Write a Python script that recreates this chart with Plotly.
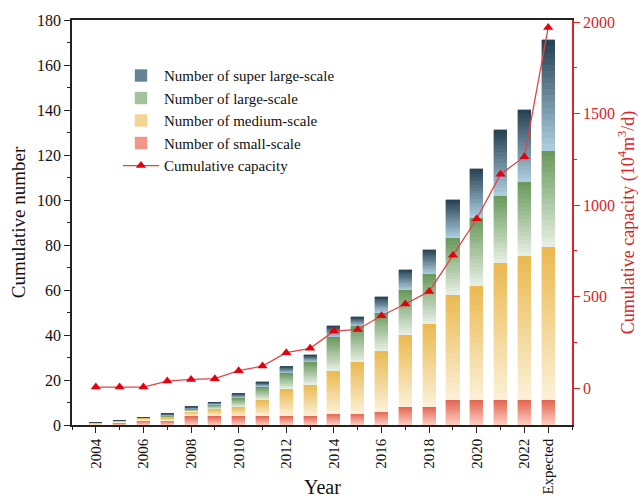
import plotly.graph_objects as go

# ---- data -------------------------------------------------------------
years = list(range(2004, 2024))          # 2023 slot holds the "Expected" column
tick_years = [2004, 2006, 2008, 2010, 2012, 2014, 2016, 2018, 2020, 2022, 2023]
tick_text = ["2004", "2006", "2008", "2010", "2012", "2014", "2016", "2018",
             "2020", "2022", "Expected"]

small_scale = [0, 1, 2, 2, 4, 4, 4, 4, 4, 4, 5, 5, 6, 8, 8, 11, 11, 11, 11, 11]
medium_scale = [1, 1, 1, 1, 2, 3, 4, 7, 12, 14, 19, 23, 27, 32, 37, 47, 51, 61, 64, 68]
large_scale = [0, 0, 0, 1, 1, 2, 4, 6, 7, 10, 15, 16, 17, 20, 22, 25, 30, 30, 33, 43]
super_large_scale = [0, 0, 0, 1, 1, 1, 2, 2, 3, 3, 5, 4, 7, 9, 11, 17, 22, 29, 32, 49]

capacity = [5, 5, 5, 38, 47, 51, 95, 120, 193, 217, 311, 320, 395, 459, 528,
            725, 925, 1168, 1264, 1970]

# ---- styling ----------------------------------------------------------
FONT = "Liberation Serif"
RED = "#d8242b"
N_SLICES = 18
BAR_WIDTH = 0.55

# (name, values, bottom colour, top colour, legend rank)
series = [
    ("Number of small-scale", small_scale, (250, 205, 194), (229, 104, 84), 4),
    ("Number of medium-scale", medium_scale, (251, 240, 214), (235, 186, 82), 3),
    ("Number of large-scale", large_scale, (228, 238, 226), (108, 154, 94), 2),
    ("Number of super large-scale", super_large_scale, (172, 204, 222), (40, 68, 84), 1),
]


def blend(c0, c1, t):
    r, g, b = (round(a + (b_ - a) * t) for a, b_ in zip(c0, c1))
    return f"rgb({r},{g},{b})"


fig = go.Figure()

# Each segment is stacked from thin slices shading from light (bottom) to dark (top)
for name, values, c_lo, c_hi, rank in series:
    legend_slice = int(N_SLICES * 0.55)
    for k in range(N_SLICES):
        col = blend(c_lo, c_hi, k / (N_SLICES - 1))
        fig.add_trace(go.Bar(
            x=years,
            y=[v / N_SLICES for v in values],
            width=BAR_WIDTH,
            marker=dict(color=col, line=dict(color=col, width=0.4)),
            name=name,
            legendgroup=name,
            showlegend=(k == legend_slice),
            legendrank=rank,
            hoverinfo="skip",
        ))

fig.add_trace(go.Scatter(
    x=years,
    y=capacity,
    yaxis="y2",
    mode="lines+markers",
    name="Cumulative capacity",
    line=dict(color="#e0444a", width=1.3),
    marker=dict(symbol="triangle-up", size=9, color="#e3000f"),
    legendrank=5,
))

fig.add_annotation(
    text="Year", x=0.5, y=-0.153, xref="paper", yref="paper",
    xanchor="center", yanchor="middle", showarrow=False,
    font=dict(family=FONT, size=20, color="#111111"),
)

fig.update_layout(
    width=642,
    height=500,
    margin=dict(l=72, r=70, t=20, b=75),
    paper_bgcolor="white",
    plot_bgcolor="white",
    barmode="stack",
    bargap=0,
    font=dict(family=FONT, size=15, color="#111111"),
    showlegend=True,
    legend=dict(
        x=0.092, y=0.903, xanchor="left", yanchor="top",
        traceorder="normal",
        bgcolor="rgba(0,0,0,0)",
        font=dict(family=FONT, size=15, color="#111111"),
        itemwidth=36,
        tracegroupgap=0,
    ),
    xaxis=dict(
        range=[2003, 2024],
        automargin=False,
        tickmode="array",
        tickvals=tick_years,
        ticktext=tick_text,
        tickangle=-90,
        ticks="outside",
        ticklen=6,
        tickwidth=1.2,
        tickcolor="#222222",
        showline=True,
        linecolor="#222222",
        linewidth=1.5,
        mirror=True,
        showgrid=False,
        zeroline=False,
        tickfont=dict(family=FONT, size=15),
        minor=dict(dtick=1, tick0=2003, ticks="outside", ticklen=3, tickcolor="#222222"),
    ),
    yaxis=dict(
        range=[0, 180],
        automargin=False,
        dtick=20,
        ticks="outside",
        ticklen=6,
        tickwidth=1.2,
        tickcolor="#222222",
        showline=True,
        linecolor="#222222",
        linewidth=1.5,
        showgrid=False,
        zeroline=False,
        tickfont=dict(family=FONT, size=16),
        minor=dict(dtick=10, ticks="outside", ticklen=3, tickcolor="#222222"),
        title=dict(text="Cumulative number", font=dict(family=FONT, size=19), standoff=6),
    ),
    yaxis2=dict(
        overlaying="y",
        side="right",
        automargin=False,
        range=[-202, 2011],
        tickvals=[0, 500, 1000, 1500, 2000],
        ticks="outside",
        ticklen=6,
        tickwidth=1.2,
        tickcolor=RED,
        showline=True,
        linecolor=RED,
        linewidth=1.5,
        showgrid=False,
        zeroline=False,
        tickfont=dict(family=FONT, size=16, color=RED),
        minor=dict(tickvals=[250, 750, 1250, 1750], ticks="outside", ticklen=3, tickcolor=RED),
        title=dict(text="Cumulative capacity (10<sup>4</sup>m<sup>3</sup>/d)",
                   font=dict(family=FONT, size=18, color=RED), standoff=0),
    ),
)

fig.write_html("out.html")
